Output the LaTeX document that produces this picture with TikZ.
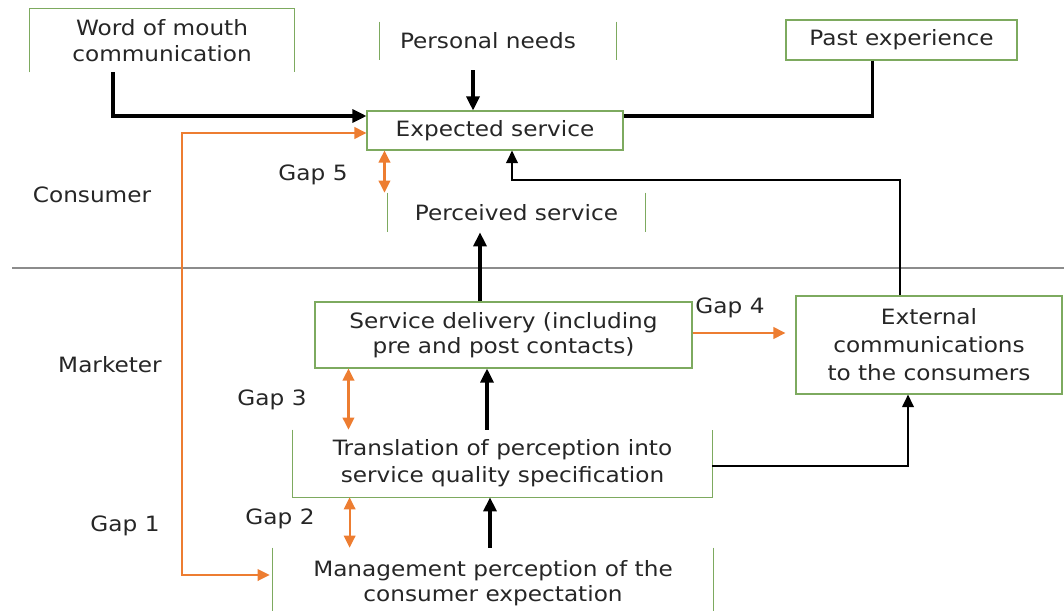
\documentclass[tikz,border=0pt]{standalone}
\usepackage{fontspec}
\setmainfont[FakeStretch=1.1]{DejaVu Sans}
\usetikzlibrary{arrows.meta}
\definecolor{boxgreen}{RGB}{125,170,95}
\definecolor{gaporange}{RGB}{237,125,49}

\begin{document}
\begin{tikzpicture}[x=0.02cm, y=-0.02cm,
      every node/.style = {font=\fontsize{12}{14.5}\selectfont, align=center,
        inner sep=0pt, text=black!85},
      box/.style = {draw=boxgreen, line width=0.6pt},
      side/.style = {draw=boxgreen, line width=0.6pt},
      heavy/.style = {line width=1.8pt, -{Triangle[length=2.8mm,width=2.6mm]}},
      light/.style = {line width=1.1pt, -{Triangle[length=2.5mm,width=2.3mm]}},
      gapline/.style = {draw=gaporange, line width=1.2pt},
      gap/.style = {gapline,
        {Triangle[length=2.4mm,width=2.3mm]}-{Triangle[length=2.4mm,width=2.3mm]}}]
  \useasboundingbox (0,0) rectangle (1064,611);

  % consumer side
  \node (wom) [minimum width=264*0.02cm, minimum height=63*0.02cm] at (162,40.5)
    {Word of mouth\\communication};
  \node (pn) [minimum width=237*0.02cm, minimum height=38*0.02cm] at (498,41) {Personal needs\hspace{0.4cm}};
  \node (past) [box, minimum width=231*0.02cm, minimum height=40*0.02cm] at (901.5,40) {Past experience};
  \node (exp) [box, minimum width=256*0.02cm, minimum height=39*0.02cm] at (495,130.5) {Expected service};
  \node (perc) [minimum width=257*0.02cm, minimum height=39*0.02cm] at (516.5,212.5) {Perceived service};

  \node (cons) at (92,195) {Consumer};
  \node (mark) at (110,365) {Marketer};
  \draw[black!45, line width=0.6pt] (12,268) -- (1064,268);

  % marketer side
  \node (sd) [box, minimum width=377*0.02cm, minimum height=66*0.02cm] at (503.5,335)
    {Service delivery (including\\pre and post contacts)};
  \node (ext) [box, minimum width=266*0.02cm, minimum height=98*0.02cm] at (929,345)
    {External\\[1.5pt]communications\\[1.5pt]to the consumers};
  \node (tr) [minimum width=419*0.02cm, minimum height=67*0.02cm] at (502.5,463.5)
    {Translation of perception into\\[1pt]service quality specification};
  \node (mg) [minimum width=440*0.02cm, minimum height=70*0.02cm] at (493,583)
    {Management perception of the\\consumer expectation};

  % open box sides
  \draw[side] (wom.south west) -- (wom.north west) -- (wom.north east) -- (wom.south east);
  \draw[side] (pn.north west) -- (pn.south west);
  \draw[side] (pn.north east) -- (pn.south east);
  \draw[side] (perc.north west) -- (perc.south west);
  \draw[side] (perc.north east) -- (perc.south east);
  \draw[side] (tr.north west) -- (tr.south west) -- (tr.south east) -- (tr.north east);
  \draw[side] (mg.north west) -- (mg.south west);
  \draw[side] (mg.north east) -- (mg.south east);

  % black connectors
  \draw[heavy] ([xshift=-0.98cm]wom.south) |- ([yshift=0.29cm]exp.west);
  \draw[heavy] ([xshift=-0.5cm, yshift=-0.2cm]pn.south) -- ([xshift=-0.5cm]pn.south |- exp.north);
  \draw[line width=1.8pt] ([xshift=-0.58cm]past.south) |- ([yshift=0.29cm]exp.east);
  \draw[heavy] ([xshift=-0.47cm]sd.north) -- ([xshift=-0.47cm]sd.north |- perc.south);
  \coordinate (c1) at (512,180);
  \draw[light] ([xshift=-0.58cm]ext.north) |- (c1) -- (c1 |- exp.south);
  \draw[heavy] ([xshift=-0.31cm]tr.north) -- ([xshift=-0.31cm]tr.north |- sd.south);
  \draw[light] ([yshift=-0.05cm]tr.east) -| ([xshift=-0.42cm]ext.south);
  \draw[heavy] ([xshift=-0.06cm]mg.north) -- ([xshift=-0.06cm]mg.north |- tr.south);

  % gaps
  \coordinate (g1) at (182,350);
  \draw[gap] ([yshift=-0.05cm]exp.west) -| (g1) |- ([yshift=0.16cm, xshift=-0.06cm]mg.west);
  \node (gap1) at (125,526) {Gap 1};
  \draw[gap] ([xshift=0.36cm]exp.south west) -- ([xshift=0.36cm]exp.south west |- perc.north);
  \node (gap5) at (313,175) {Gap 5};
  \draw[gapline, -{Triangle[length=2.4mm,width=2.3mm]}, shorten >=0.2cm]
    ([yshift=0.04cm]sd.east) -- ([yshift=0.04cm]sd.east -| ext.west);
  \node (gap4) at (730,308) {Gap 4};
  \draw[gap] ([xshift=0.68cm]sd.south west) -- ([xshift=0.68cm]sd.south west |- tr.north);
  \node (gap3) at (272,400) {Gap 3};
  \draw[gap] ([xshift=1.14cm]tr.south west) -- ([xshift=1.14cm]tr.south west |- mg.north);
  \node (gap2) at (280,519) {Gap 2};
\end{tikzpicture}
\end{document}
